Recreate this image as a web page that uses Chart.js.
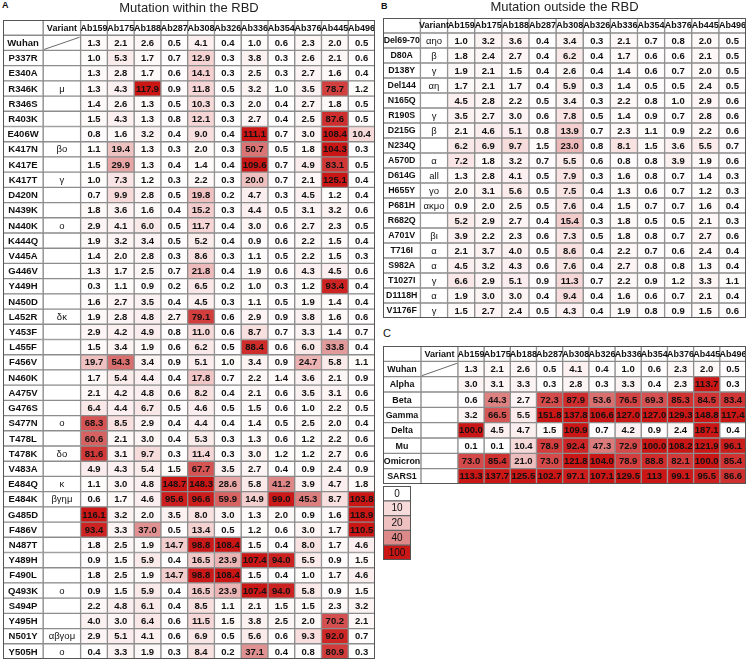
<!DOCTYPE html>
<html>
<head>
<meta charset="utf-8">
<script src="https://cdn.jsdelivr.net/npm/chart.js@4/dist/chart.umd.min.js"></script>
<style>
body { margin: 0; background: #fff; }
#page { position: relative; width: 749px; height: 662px; overflow: hidden; font-family: 'Liberation Sans', Arial, sans-serif; }
canvas { position: absolute; }
.tag { position: absolute; font-weight: bold; font-size: 9px; line-height: 10px; color: #111; }
</style>
</head>
<body>
<div id="page">
  <div class="tag" style="left:2px;top:0px">A</div>
  <div class="tag" style="left:381px;top:1px">B</div>
  <div class="tag" style="left:383px;top:328px;font-weight:normal;font-size:11px">C</div>
  <canvas id="chartA" width="372" height="660" style="left:3px;top:0"></canvas>
  <canvas id="chartB" width="363" height="319" style="left:383px;top:0"></canvas>
  <canvas id="chartC" width="363" height="139" style="left:383px;top:346px"></canvas>
  <canvas id="legendBox" width="28" height="74" style="left:383px;top:486px"></canvas>
</div>
<script>
// antibodies (column headers), same for the three tables
const antibodies = ["Ab159", "Ab175", "Ab188", "Ab287", "Ab308", "Ab326", "Ab336", "Ab354", "Ab376", "Ab445", "Ab496"];

// A: mutations within the RBD
const rbdMutations = ["Wuhan", "P337R", "E340A", "R346K", "R346S", "R403K", "E406W", "K417N", "K417E", "K417T",
  "D420N", "N439K", "N440K", "K444Q", "V445A", "G446V", "Y449H", "N450D", "L452R", "Y453F", "L455F", "F456V",
  "N460K", "A475V", "G476S", "S477N", "T478L", "T478K", "V483A", "E484Q", "E484K", "G485D", "F486V", "N487T",
  "Y489H", "F490L", "Q493K", "S494P", "Y495H", "N501Y", "Y505H"];
const rbdVariants = ["", "", "", "μ", "", "", "", "βο", "", "γ",
  "", "", "ο", "", "", "", "", "", "δκ", "", "", "",
  "", "", "", "ο", "", "δο", "", "κ", "βγημ", "", "", "",
  "", "", "ο", "", "", "αβγομ", "ο"];
const rbdValues = [
  [1.3, 2.1, 2.6, 0.5, 4.1, 0.4, 1.0, 0.6, 2.3, 2.0, 0.5],
  [1.0, 5.3, 1.7, 0.7, 12.9, 0.3, 3.8, 0.3, 2.6, 2.1, 0.6],
  [1.3, 2.8, 1.7, 0.6, 14.1, 0.3, 2.5, 0.3, 2.7, 1.6, 0.4],
  [1.3, 4.3, 117.9, 0.9, 11.8, 0.5, 3.2, 1.0, 3.5, 78.7, 1.2],
  [1.4, 2.6, 1.3, 0.5, 10.3, 0.3, 2.0, 0.4, 2.7, 1.8, 0.5],
  [1.5, 4.3, 1.3, 0.8, 12.1, 0.3, 2.7, 0.4, 2.5, 87.6, 0.5],
  [0.8, 1.6, 3.2, 0.4, 9.0, 0.4, 111.1, 0.7, 3.0, 108.4, 10.4],
  [1.1, 19.4, 1.3, 0.3, 2.0, 0.3, 50.7, 0.5, 1.8, 104.3, 0.3],
  [1.5, 29.9, 1.3, 0.4, 1.4, 0.4, 109.6, 0.7, 4.9, 83.1, 0.5],
  [1.0, 7.3, 1.2, 0.3, 2.2, 0.3, 20.0, 0.7, 2.1, 125.1, 0.4],
  [0.7, 9.9, 2.8, 0.5, 19.8, 0.2, 4.7, 0.3, 4.5, 1.2, 0.4],
  [1.8, 3.6, 1.6, 0.4, 15.2, 0.3, 4.4, 0.5, 3.1, 3.2, 0.6],
  [2.9, 4.1, 6.0, 0.5, 11.7, 0.4, 3.0, 0.6, 2.7, 2.3, 0.5],
  [1.9, 3.2, 3.4, 0.5, 5.2, 0.4, 0.9, 0.6, 2.2, 1.5, 0.4],
  [1.4, 2.0, 2.8, 0.3, 8.6, 0.3, 1.1, 0.5, 2.2, 1.5, 0.3],
  [1.3, 1.7, 2.5, 0.7, 21.8, 0.4, 1.9, 0.6, 4.3, 4.5, 0.6],
  [0.3, 1.1, 0.9, 0.2, 6.5, 0.2, 1.0, 0.3, 1.2, 93.4, 0.4],
  [1.6, 2.7, 3.5, 0.4, 4.5, 0.3, 1.1, 0.5, 1.9, 1.4, 0.4],
  [1.9, 2.8, 4.8, 2.7, 79.1, 0.6, 2.9, 0.9, 3.8, 1.6, 0.6],
  [2.9, 4.2, 4.9, 0.8, 11.0, 0.6, 8.7, 0.7, 3.3, 1.4, 0.7],
  [1.5, 3.4, 1.9, 0.6, 6.2, 0.5, 88.4, 0.6, 6.0, 33.8, 0.4],
  [19.7, 54.3, 3.4, 0.9, 5.1, 1.0, 3.4, 0.9, 24.7, 5.8, 1.1],
  [1.7, 5.4, 4.4, 0.4, 17.8, 0.7, 2.2, 1.4, 3.6, 2.1, 0.9],
  [2.1, 4.2, 4.8, 0.6, 8.2, 0.4, 2.1, 0.6, 3.5, 3.1, 0.6],
  [6.4, 4.4, 6.7, 0.5, 4.6, 0.5, 1.5, 0.6, 1.0, 2.2, 0.5],
  [68.3, 8.5, 2.9, 0.4, 4.4, 0.4, 1.4, 0.5, 2.5, 2.0, 0.4],
  [60.6, 2.1, 3.0, 0.4, 5.3, 0.3, 1.3, 0.6, 1.2, 2.2, 0.6],
  [81.6, 3.1, 9.7, 0.3, 11.4, 0.3, 3.0, 1.2, 1.2, 2.7, 0.6],
  [4.9, 4.3, 5.4, 1.5, 67.7, 3.5, 2.7, 0.4, 0.9, 2.4, 0.9],
  [1.1, 3.0, 4.8, 148.7, 148.3, 28.6, 5.8, 41.2, 3.9, 4.7, 1.8],
  [0.6, 1.7, 4.6, 95.6, 96.6, 59.9, 14.9, 99.0, 45.3, 8.7, 103.8],
  [116.1, 3.2, 2.0, 3.5, 8.0, 3.0, 1.3, 2.0, 0.9, 1.6, 118.9],
  [93.4, 3.3, 37.0, 0.5, 13.4, 0.5, 1.2, 0.6, 3.0, 1.7, 110.5],
  [1.8, 2.5, 1.9, 14.7, 98.8, 108.4, 1.5, 0.4, 8.0, 1.7, 4.6],
  [0.9, 1.5, 5.9, 0.4, 16.5, 23.9, 107.4, 94.0, 5.5, 0.9, 1.5],
  [1.8, 2.5, 1.9, 14.7, 98.8, 108.4, 1.5, 0.4, 1.0, 1.7, 4.6],
  [0.9, 1.5, 5.9, 0.4, 16.5, 23.9, 107.4, 94.0, 5.8, 0.9, 1.5],
  [2.2, 4.8, 6.1, 0.4, 8.5, 1.1, 2.1, 1.5, 1.5, 2.3, 3.2],
  [4.0, 3.0, 6.4, 0.6, 11.5, 1.5, 3.8, 2.5, 2.0, 70.2, 2.1],
  [2.9, 5.1, 4.1, 0.6, 6.9, 0.5, 5.6, 0.6, 9.3, 92.0, 0.7],
  [0.4, 3.3, 1.9, 0.3, 8.4, 0.2, 37.1, 0.4, 0.8, 80.9, 0.3]
];

// B: mutations outside the RBD
const outsideMutations = ["Del69-70", "D80A", "D138Y", "Del144", "N165Q", "R190S", "D215G", "N234Q", "A570D", "D614G",
  "H655Y", "P681H", "R682Q", "A701V", "T716I", "S982A", "T1027I", "D1118H", "V1176F"];
const outsideVariants = ["αηο", "β", "γ", "αη", "", "γ", "β", "", "α", "all",
  "γο", "ακμο", "", "βι", "α", "α", "γ", "α", "γ"];
const outsideValues = [
  [1.0, 3.2, 3.6, 0.4, 3.4, 0.3, 2.1, 0.7, 0.8, 2.0, 0.5],
  [1.8, 2.4, 2.7, 0.4, 6.2, 0.4, 1.7, 0.6, 0.6, 2.1, 0.5],
  [1.9, 2.1, 1.5, 0.4, 2.6, 0.4, 1.4, 0.6, 0.7, 2.0, 0.5],
  [1.7, 2.1, 1.7, 0.4, 5.9, 0.3, 1.4, 0.5, 0.5, 2.4, 0.5],
  [4.5, 2.8, 2.2, 0.5, 3.4, 0.3, 2.2, 0.8, 1.0, 2.9, 0.6],
  [3.5, 2.7, 3.0, 0.6, 7.8, 0.5, 1.4, 0.9, 0.7, 2.8, 0.6],
  [2.1, 4.6, 5.1, 0.8, 13.9, 0.7, 2.3, 1.1, 0.9, 2.2, 0.6],
  [6.2, 6.9, 9.7, 1.5, 23.0, 0.8, 8.1, 1.5, 3.6, 5.5, 0.7],
  [7.2, 1.8, 3.2, 0.7, 5.5, 0.6, 0.8, 0.8, 3.9, 1.9, 0.6],
  [1.3, 2.8, 4.1, 0.5, 7.9, 0.3, 1.6, 0.8, 0.7, 1.4, 0.3],
  [2.0, 3.1, 5.6, 0.5, 7.5, 0.4, 1.3, 0.6, 0.7, 1.2, 0.3],
  [0.9, 2.0, 2.5, 0.5, 7.6, 0.4, 1.5, 0.7, 0.7, 1.6, 0.4],
  [5.2, 2.9, 2.7, 0.4, 15.4, 0.3, 1.8, 0.5, 0.5, 2.1, 0.3],
  [3.9, 2.2, 2.3, 0.6, 7.3, 0.5, 1.8, 0.8, 0.7, 2.7, 0.6],
  [2.1, 3.7, 4.0, 0.5, 8.6, 0.4, 2.2, 0.7, 0.6, 2.4, 0.4],
  [4.5, 3.2, 4.3, 0.6, 7.6, 0.4, 2.7, 0.8, 0.8, 1.3, 0.4],
  [6.6, 2.9, 5.1, 0.9, 11.3, 0.7, 2.2, 0.9, 1.2, 3.3, 1.1],
  [1.9, 3.0, 3.0, 0.4, 9.4, 0.4, 1.6, 0.6, 0.7, 2.1, 0.4],
  [1.5, 2.7, 2.4, 0.5, 4.3, 0.4, 1.9, 0.8, 0.9, 1.5, 0.6]
];

// C: whole variants
const variantNames = ["Wuhan", "Alpha", "Beta", "Gamma", "Delta", "Mu", "Omicron", "SARS1"];
const variantValues = [
  [1.3, 2.1, 2.6, 0.5, 4.1, 0.4, 1.0, 0.6, 2.3, 2.0, 0.5],
  [3.0, 3.1, 3.3, 0.3, 2.8, 0.3, 3.3, 0.4, 2.3, 113.7, 0.3],
  [0.6, 44.3, 2.7, 72.3, 87.9, 53.6, 76.5, 69.3, 85.3, 84.5, 83.4],
  [3.2, 66.5, 5.5, 151.8, 137.8, 106.6, 127.0, 127.0, 129.3, 148.8, 117.4],
  [100.0, 4.5, 4.7, 1.5, 109.9, 0.7, 4.2, 0.9, 2.4, 187.1, 0.4],
  [0.1, 0.1, 10.4, 78.9, 92.4, 47.3, 72.9, 100.0, 108.2, 121.9, 96.1],
  [73.0, 85.4, 21.0, 73.0, 121.8, 104.0, 78.9, 88.8, 82.1, 100.0, 85.4],
  [113.3, 137.7, 125.5, 102.7, 97.1, 107.1, 129.5, 113, 99.1, 95.5, 86.6]
];
// the source prints this one cell without a decimal
const printedAsIs = { "SARS1|Ab354": "113" };

// colour key
const legendTicks = [0, 10, 20, 40, 100];
const legendColors = ["#ffffff", "#f7dbdb", "#efc0c0", "#de8989", "#cb1616"];

function hexRgb(h) {
  return [1, 3, 5].map(i => parseInt(h.slice(i, i + 2), 16));
}
function heatColor(v) {
  if (v <= legendTicks[0]) return legendColors[0];
  for (let i = 1; i < legendTicks.length; i++) {
    if (v <= legendTicks[i]) {
      const t = (v - legendTicks[i - 1]) / (legendTicks[i] - legendTicks[i - 1]);
      const a = hexRgb(legendColors[i - 1]), b = hexRgb(legendColors[i]);
      const c = a.map((x, k) => Math.round(x + (b[k] - x) * t));
      return "rgb(" + c.join(",") + ")";
    }
  }
  return legendColors[legendColors.length - 1];
}

const FONT = "'Liberation Sans', Arial, sans-serif";
const gridColor = "#8c8c8c";

// writes the text of each cell in the middle of its bar, plus the slash in the Wuhan variant cell
function cellText(getText, slashRow) {
  return {
    id: "cellText",
    afterDatasetsDraw(chart) {
      const ctx = chart.ctx;
      ctx.save();
      ctx.textAlign = "center";
      ctx.textBaseline = "middle";
      ctx.fillStyle = "#111";
      chart.data.datasets.forEach((ds, c) => {
        chart.getDatasetMeta(c).data.forEach((bar, r) => {
          const p = bar.getProps(["x", "y", "base", "height"], true);
          const cell = getText(r, c);
          if (!cell.text) return;
          ctx.font = cell.font;
          ctx.fillText(cell.text, (p.x + p.base) / 2, p.y + 0.5);
        });
      });
      if (slashRow != null) {
        const p = chart.getDatasetMeta(1).data[slashRow].getProps(["x", "y", "base", "height"], true);
        ctx.strokeStyle = "#444";
        ctx.lineWidth = 0.8;
        ctx.beginPath();
        ctx.moveTo(p.base + 1, p.y + p.height / 2 - 1);
        ctx.lineTo(p.x - 1, p.y - p.height / 2 + 2);
        ctx.stroke();
      }
      const a = chart.chartArea;
      ctx.strokeStyle = "#555";
      ctx.lineWidth = 1;
      ctx.strokeRect(a.left + 0.5, a.top + 0.5, a.right - a.left - 1, a.bottom - a.top - 1);
      ctx.restore();
    }
  };
}

function makeTable(id, rows, variants, values, nameW, variantW, nameSize, title, titlePad, slashRow) {
  const units = [nameW, variantW].concat(antibodies.map(() => 1));
  const edges = [0];
  units.forEach(u => edges.push(edges[edges.length - 1] + u));
  const yLabels = [""].concat(rows);

  const datasets = units.map((u, c) => ({
    data: yLabels.map(() => [edges[c], edges[c + 1]]),
    backgroundColor: ctx => {
      const r = ctx.dataIndex;
      if (r === 0 || c < 2) return "#ffffff";
      return heatColor(values[r - 1][c - 2]);
    },
    borderColor: gridColor,
    borderWidth: 1,
    borderSkipped: false,
    grouped: false,
    barPercentage: 1,
    categoryPercentage: 1
  }));

  const text = (r, c) => {
    if (r === 0) {
      return { text: c === 0 ? "" : c === 1 ? "Variant" : antibodies[c - 2], font: "bold 9px " + FONT };
    }
    if (c === 0) return { text: rows[r - 1], font: "bold " + nameSize + "px " + FONT };
    if (c === 1) return { text: variants ? variants[r - 1] : "", font: "9.5px " + FONT };
    const key = rows[r - 1] + "|" + antibodies[c - 2];
    const v = values[r - 1][c - 2];
    return { text: printedAsIs[key] || v.toFixed(1), font: "bold 9.5px " + FONT };
  };

  return new Chart(id, {
    type: "bar",
    data: { labels: yLabels, datasets: datasets },
    options: {
      indexAxis: "y",
      responsive: false,
      animation: false,
      devicePixelRatio: 1,
      layout: { padding: { top: 0, bottom: 1, left: 0, right: 0 } },
      plugins: {
        legend: { display: false },
        tooltip: { enabled: false },
        title: {
          display: !!title,
          text: title,
          color: "#222",
          font: { family: FONT, size: 13, weight: "normal", lineHeight: 1.2 },
          padding: titlePad
        }
      },
      scales: {
        x: { type: "linear", min: 0, max: edges[edges.length - 1], display: false },
        y: { type: "category", display: false, offset: true }
      }
    },
    plugins: [cellText(text, slashRow)]
  });
}

makeTable("chartA", rbdMutations, rbdVariants, rbdValues, 1.5, 1.4, 9.5,
  "Mutation within the RBD", { top: 1, bottom: 3.4 }, 1);
makeTable("chartB", outsideMutations, outsideVariants, outsideValues, 1.38, 1.0, 8.8,
  "Mutation outside the RBD", { top: 0, bottom: 2.4 }, null);
makeTable("chartC", variantNames, null, variantValues, 1.45, 1.41, 8.9,
  "", { top: 0, bottom: 0 }, 1);

// colour key as a one-column table
new Chart("legendBox", {
  type: "bar",
  data: {
    labels: legendTicks.map(String),
    datasets: [{
      data: legendTicks.map(() => [0, 1]),
      backgroundColor: legendColors,
      borderColor: "#666",
      borderWidth: 1,
      borderSkipped: false,
      barPercentage: 1,
      categoryPercentage: 1
    }]
  },
  options: {
    indexAxis: "y",
    responsive: false,
    animation: false,
    devicePixelRatio: 1,
    plugins: { legend: { display: false }, tooltip: { enabled: false } },
    scales: {
      x: { type: "linear", min: 0, max: 1, display: false },
      y: { type: "category", display: false, offset: true }
    }
  },
  plugins: [cellText(r => ({ text: String(legendTicks[r]), font: "10px " + FONT }), null)]
});
</script>
</body>
</html>
